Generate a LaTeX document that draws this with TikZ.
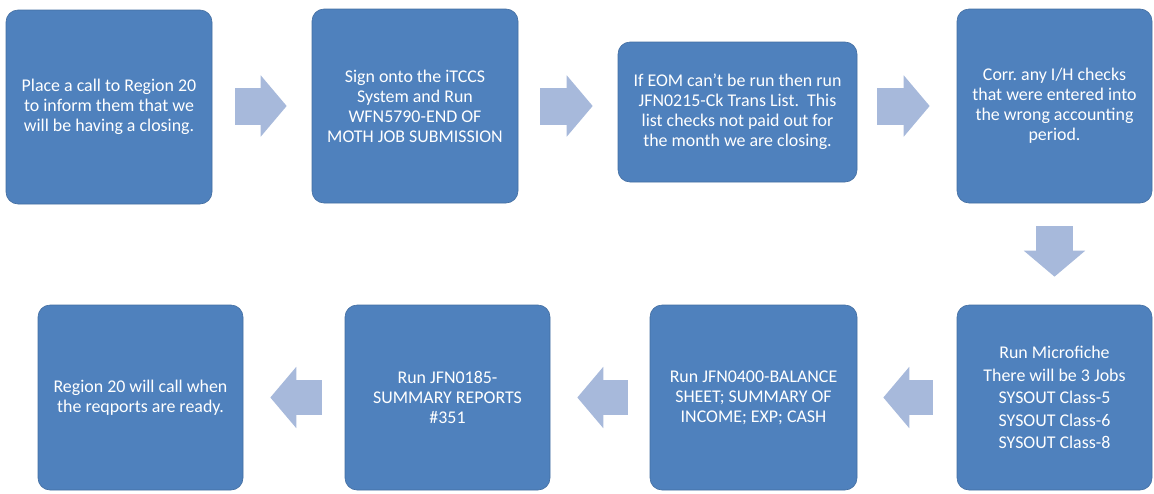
\documentclass[tikz,border=0pt]{standalone}
\usepackage{fontspec}
\setmainfont{Carlito}
\usetikzlibrary{arrows.meta,positioning}
\definecolor{boxblue}{HTML}{4F81BD}
\definecolor{arrowblue}{HTML}{A7B9DB}
\frenchspacing

\begin{document}
\begin{tikzpicture}[x=1pt, y=-1pt, every node/.style={font=\fontsize{17.9}{20}\selectfont}]
        \tikzset{
            stepbox/.style={draw=boxblue!85!black, line width=0.6pt, fill=boxblue, text=white, rounded corners=12pt, align=center, inner sep=0pt},
            flowarrow/.style={draw=arrowblue, line width=37pt, -{Triangle[width=60pt,length=26pt]}}
        }
        \useasboundingbox (0,0) rectangle (1154,493);
        % top row
        \node[stepbox, minimum width=206pt, minimum height=194pt] (b1) at (109,107) {Place a call to Region 20\\to inform them that we\\will be having a closing.};
        \node[stepbox, minimum width=206pt, minimum height=194pt] (b2) at (415,106) {Sign onto the iTCCS\\System and Run\\WFN5790-END OF\\MOTH JOB SUBMISSION};
        \node[stepbox, minimum width=239pt, minimum height=140pt] (b3) at (737.5,112) {If EOM can't be run then run\\JFN0215-Ck Trans List.\ \ This\\list checks not paid out for\\the month we are closing.};
        \node[stepbox, minimum width=195pt, minimum height=194pt] (b4) at (1054.5,106) {Corr. any I/H checks\\that were entered into\\the wrong accounting\\period.};
        % bottom row
        \node[stepbox, minimum width=195pt, minimum height=185pt] (b5) at (1054.5,397.5) {Run Microfiche\\[2.5pt]There will be 3 Jobs\\[2.5pt]SYSOUT Class-5\\[2.5pt]SYSOUT Class-6\\[2.5pt]SYSOUT Class-8};
        \node[stepbox, minimum width=207pt, minimum height=185pt] (b6) at (753.5,397.5) {Run JFN0400-BALANCE\\SHEET; SUMMARY OF\\INCOME; EXP; CASH};
        \node[stepbox, minimum width=205pt, minimum height=185pt] (b7) at (447.5,397.5) {Run JFN0185-\\SUMMARY REPORTS\\\#351};
        \node[stepbox, minimum width=205pt, minimum height=185pt] (b8) at (140.5,397.5) {Region 20 will call when\\the reqports are ready.};
        % block arrows
        \draw[flowarrow, shorten <=23pt, shorten >=25pt] (b1.east |- b2.west) -- (b2.west);
        \draw[flowarrow, shorten <=22pt, shorten >=25pt] (b2.east) -- (b2.east -| b3.west);
        \draw[flowarrow, shorten <=20pt, shorten >=27pt] (b3.east |- b4.west) -- (b4.west);
        \draw[flowarrow, shorten <=23pt, shorten >=28pt] (b4) -- (b5);
        \draw[flowarrow, line width=35pt, shorten <=24pt, shorten >=26pt] (b5) -- (b6);
        \draw[flowarrow, line width=35pt, shorten <=22pt, shorten >=27pt] (b6) -- (b7);
        \draw[flowarrow, line width=35pt, shorten <=23pt, shorten >=27pt] (b7) -- (b8);
    \end{tikzpicture}
\end{document}
